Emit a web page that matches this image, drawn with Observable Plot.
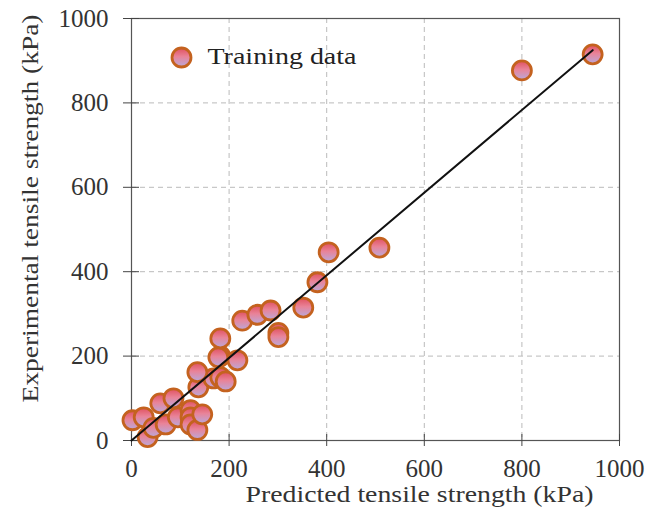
<!DOCTYPE html>
<html>
<head>
<meta charset="utf-8">
<script src="https://cdn.jsdelivr.net/npm/d3@7"></script>
<script src="https://cdn.jsdelivr.net/npm/@observablehq/plot@0.6"></script>
<style>
  html, body { margin: 0; padding: 0; background: #fff; }
  #chart { position: relative; width: 659px; height: 513px; }
</style>
</head>
<body>
<svg width="0" height="0" style="position:absolute">
  <defs>
    <linearGradient id="dotGrad" x1="0" y1="0" x2="0" y2="1">
      <stop offset="0%" stop-color="#e0505e"/>
      <stop offset="45%" stop-color="#e98398"/>
      <stop offset="100%" stop-color="#b9a9dc"/>
    </linearGradient>
  </defs>
</svg>
<div id="chart"></div>
<script>
// Training data
const predicted    = [2, 33, 25, 45, 59, 86, 70, 95, 121, 121, 121, 135, 145, 137, 168, 135, 182, 193, 182, 217, 178, 182, 227, 258, 285, 352, 301, 301, 381, 404, 508, 800, 945];
const experimental = [48, 8, 55, 30, 88, 100, 38, 55, 72, 55, 38, 25, 62, 126, 147, 162, 150, 140, 200, 190, 197, 242, 284, 298, 308, 315, 255, 245, 375, 446, 457, 877, 915];
const fitLineX = [0, 945];
const fitLineY = [0, 925];
const ticks = [0, 200, 400, 600, 800, 1000];
const xLabel = "Predicted tensile strength (kPa)";
const yLabel = "Experimental tensile strength (kPa)";
const legendLabel = "Training data";

const points = predicted.map((p, i) => ({p, e: experimental[i]}));
const fit = fitLineX.map((x, i) => ({x, y: fitLineY[i]}));

const serif = "Liberation Serif, Times New Roman, serif";
const dotStyle = {r: 9.5, fill: "url(#dotGrad)", stroke: "#c4621f", strokeWidth: 2.8};
const fmt = d => String(d);

const chart = Plot.plot({
  width: 659,
  height: 513,
  marginLeft: 131,
  marginRight: 40,
  marginTop: 18,
  marginBottom: 73,
  style: {fontFamily: serif, fontSize: "25px", color: "#333", background: "#fff", overflow: "visible"},
  x: {domain: [0, 1000], ticks},
  y: {domain: [0, 1000], ticks},
  marks: [
    Plot.gridX(ticks, {stroke: "#bbb", strokeOpacity: 1, strokeDasharray: "5,4"}),
    Plot.gridY(ticks, {stroke: "#bbb", strokeOpacity: 1, strokeDasharray: "5,4"}),
    Plot.frame({stroke: "#555", strokeWidth: 1.2}),
    Plot.axisX(ticks, {tickSize: 6, tickPadding: 13, tickFormat: fmt, label: null, stroke: "#444", fontSize: 25, fill: "#333", fontFamily: serif}),
    Plot.axisX(ticks, {tickSize: -6, text: null, label: null, stroke: "#444"}),
    Plot.axisY(ticks, {tickSize: 8, tickPadding: 15, tickFormat: fmt, label: null, stroke: "#444", fontSize: 25, fill: "#333", fontFamily: serif}),
    Plot.axisY(ticks, {tickSize: -8, text: null, label: null, stroke: "#444"}),
    Plot.dot(points, {x: "p", y: "e", ...dotStyle}),
    Plot.line(fit, {x: "x", y: "y", stroke: "#111", strokeWidth: 2}),
    Plot.dot([legendLabel], {frameAnchor: "top-left", dx: 50, dy: 39, ...dotStyle}),
    Plot.text([legendLabel], {frameAnchor: "top-left", dx: 76, dy: 38, text: d => d, textAnchor: "start", lineAnchor: "middle", fontSize: 24, fill: "#222", fontFamily: serif}),
    Plot.text([xLabel], {frameAnchor: "bottom", dx: 44, dy: 54, text: d => d, textAnchor: "middle", lineAnchor: "middle", fontSize: 24, fill: "#333", fontFamily: serif}),
    Plot.text([yLabel], {frameAnchor: "left", dx: -101, dy: -21, rotate: -90, text: d => d, textAnchor: "middle", lineAnchor: "middle", fontSize: 24, fill: "#333", fontFamily: serif})
  ]
});
// stretch the titles to the reference's text lengths
const lengths = {[xLabel]: 348, [yLabel]: 388, [legendLabel]: 149};
d3.select(chart).selectAll("text").each(function() {
  const t = this.textContent;
  if (lengths[t]) {
    this.setAttribute("textLength", lengths[t]);
    this.setAttribute("lengthAdjust", "spacingAndGlyphs");
  }
});
document.getElementById("chart").appendChild(chart);
</script>
</body>
</html>
